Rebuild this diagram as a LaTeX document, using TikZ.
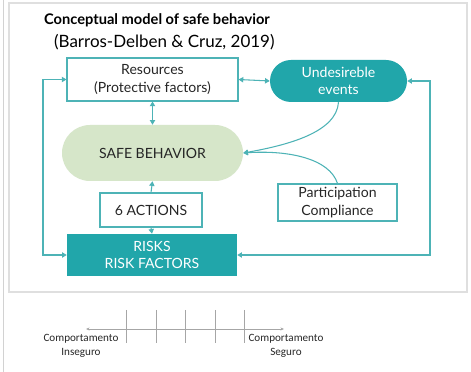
\documentclass[tikz,border=0pt]{standalone}
\usepackage{fontspec}
\setmainfont{Lato}
\newfontfamily\scalefont{Carlito}
\usetikzlibrary{arrows.meta}

\definecolor{tealdark}{HTML}{21A6AA}
\definecolor{tealline}{HTML}{4DB3B6}
\definecolor{safegreen}{HTML}{D6E6C9}
\definecolor{textgray}{HTML}{262626}

% one unit = one pixel of the layout
\newdimen\px \px=0.03cm

\tikzset{
  box/.style={draw=tealline, line width=0.9pt, fill=white, text=textgray,
    align=center, font=\fontsize{12}{15}\selectfont, inner sep=0pt},
  pill/.style={fill=tealdark, text=white, align=center,
    font=\fontsize{12}{15}\selectfont, inner sep=0pt},
  link/.style={draw=tealline, line width=0.9pt, -{Triangle[length=4pt,width=4.5pt]}},
  twoway/.style={link, {Triangle[length=4pt,width=4.5pt]}-{Triangle[length=4pt,width=4.5pt]}},
  scaleline/.style={draw=gray!70, line width=0.5pt},
  scalelabel/.style={align=center, text=textgray, inner sep=0pt,
    font=\scalefont\fontsize{9.5}{12}\selectfont},
}

\begin{document}
\begin{tikzpicture}[x=1\px,y=-1\px]
  \useasboundingbox (0,0) rectangle (471,372);
  % page edge and frame
  \draw[gray!35, line width=0.8pt] (3,0) -- (3,372);
  \draw[gray!25, line width=1pt, fill=white] (9,3) rectangle (467,292);

  % heading
  \node[anchor=west, font=\bfseries\fontsize{12.5}{14}\selectfont] (title) at (40,20)
    {Conceptual model of safe behavior};
  \node[anchor=west, font=\fontsize{14.5}{16}\selectfont] (cite) at (50,42)
    {(Barros-Delben \& Cruz, 2019)};

  % blocks
  \node[box, minimum width=171\px, minimum height=43\px] (res) at (152.5,79.5)
    {Resources\\(Protective factors)};
  \node[pill, rounded corners=21\px, minimum width=137\px, minimum height=42\px] (und) at (338.5,81)
    {Undesireble\\events};
  \node[pill, fill=safegreen, text=textgray, rounded corners=28\px,
    minimum width=181\px, minimum height=56\px] (safe) at (152.5,153) {SAFE BEHAVIOR};
  \node[box, minimum width=102\px, minimum height=34\px] (act) at (151,210) {6 ACTIONS};
  \node[pill, minimum width=170\px, minimum height=42\px] (risk) at (152,255)
    {RISKS\\RISK FACTORS};
  \node[box, minimum width=119\px, minimum height=37\px] (part) at (337.5,202.5)
    {Participation\\Compliance};

  % connectors
  \coordinate (lft) at (43,0);
  \coordinate (rgt) at (430,0);
  \draw[twoway] (res.east) -- (und.west);
  \draw[twoway] (res.south) -- (safe.north);
  \draw[link] (act.north) -- (safe.south);
  \draw[link] (act.south) -- (risk.north);
  \draw[twoway] (res.west) -- (res.west -| lft) -- (risk.west -| lft) -- (risk.west);
  \draw[twoway] (und.east) -- (und.east -| rgt) -- (risk.east -| rgt) -- (risk.east);
  \draw[link] (und.south) .. controls +(-2,30) and +(45,-8) .. (safe.east);
  \draw[link] (part.north) .. controls +(-8,-25) and +(45,-3) .. (safe.east);

  % behaviour scale
  \coordinate (sl) at (86,329);
  \coordinate (sr) at (284,329);
  \draw[scaleline, {Stealth[length=3pt,width=2.5pt]}-{Stealth[length=3pt,width=2.5pt]}] (sl) -- (sr);
  \foreach \x in {126,156,185,215,244}
    \draw[scaleline] (\x,310) -- (\x,343);
  \node[scalelabel] (unsafe) at (81,346) {Comportamento\\Inseguro};
  \node[scalelabel] (safeend) at (286,346) {Comportamento\\Seguro};
\end{tikzpicture}
\end{document}
